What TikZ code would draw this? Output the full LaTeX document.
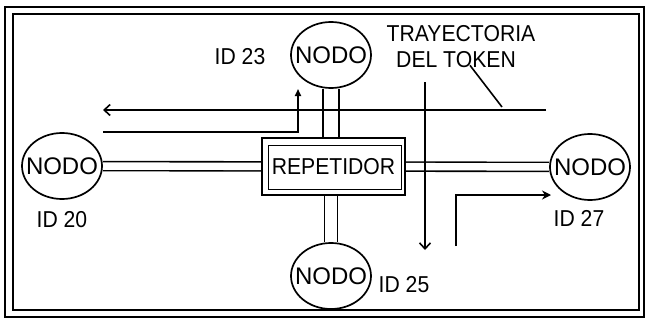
\documentclass[tikz,border=0pt]{standalone}
\usepackage{fontspec}
\setmainfont{Liberation Sans}[FakeStretch=0.92]
\newfontfamily\nodofont{Liberation Sans}
\usetikzlibrary{shapes.geometric,arrows.meta,backgrounds}
\begin{document}
\begin{tikzpicture}[x=1pt,y=-1pt,
  ln/.style={line width=1.6pt},
  bigfont/.style={font=\fontsize{23}{25}\selectfont},
  nodo/.style={ellipse,draw,line width=1.7pt,fill=white,minimum width=80pt,minimum height=66pt,inner sep=0pt,font=\nodofont\fontsize{24}{26}\selectfont},
  lbl/.style={inner sep=0pt,bigfont},
  repbox/.style={draw,line width=2.4pt,fill=white,minimum width=143pt,minimum height=57pt,inner sep=0pt,bigfont},
  dbl/.style={draw,line width=1.6pt,double=white,double distance=#1},
  barb/.style={-{Straight Barb[length=6pt,width=11pt,line width=1.6pt]}}
]
\useasboundingbox (0,0) rectangle (648,324);
% frame
\draw[ln] (5,7) rectangle (644,317);
\draw[ln] (13,14) rectangle (639,310);
% nodes
\node[nodo] (n23) at (331,55) {\makebox[0pt]{NODO}};
\node[nodo] (n20) at (62,166) {\makebox[0pt]{NODO}};
\node[nodo] (n27) at (590,167) {\makebox[0pt]{NODO}};
\node[nodo] (n25) at (331,276) {\makebox[0pt]{NODO}};
\node[repbox] (rep) at (333.5,166.5) {REPETIDOR};
\draw[line width=1.3pt] ([shift={(8,9)}]rep.north west) rectangle ([shift={(-5,-7)}]rep.south east);
% labels
\node[lbl] (l23) at (240,57) {ID 23};
\node[lbl] (l20) at (62,220) {ID 20};
\node[lbl] (l27) at (579,218) {ID 27};
\node[lbl] (l25) at (404,285) {ID 25};
\node[lbl] (tray) at (461,34) {TRAYECTORIA};
\node[lbl] (tok) at (456,60) {DEL TOKEN};
% connections
\begin{scope}[on background layer]
\draw[dbl=7.4pt] (n20) -- (rep);
\draw[dbl=7.4pt] (rep) -- (n27);
\draw[dbl=14.4pt] (n23) -- (n23 |- rep);
\draw[dbl=11.4pt] (n25) -- (n25 |- rep);
\end{scope}
% token path
\coordinate (a1s) at (546,110);
\coordinate (a1e) at (103,110);
\draw[ln,barb] (a1s) -- (a1e);
\coordinate (a2s) at (103,132);
\coordinate (a2e) at (298,89);
\draw[ln,-{Triangle[length=7pt,width=6pt]}] (a2s) -| (a2e);
\coordinate (a3s) at (425,82);
\coordinate (a3e) at (425,250);
\draw[ln,barb] (a3s) -- (a3e);
\coordinate (a4s) at (456,246);
\coordinate (a4e) at (551,195);
\draw[ln,-{Stealth[length=9pt,width=9pt]}] (a4s) |- (a4e);
\coordinate (lead) at (502,107);
\draw[ln] ([xshift=14pt,yshift=3pt]tok.south) -- (lead);
\end{tikzpicture}
\end{document}
